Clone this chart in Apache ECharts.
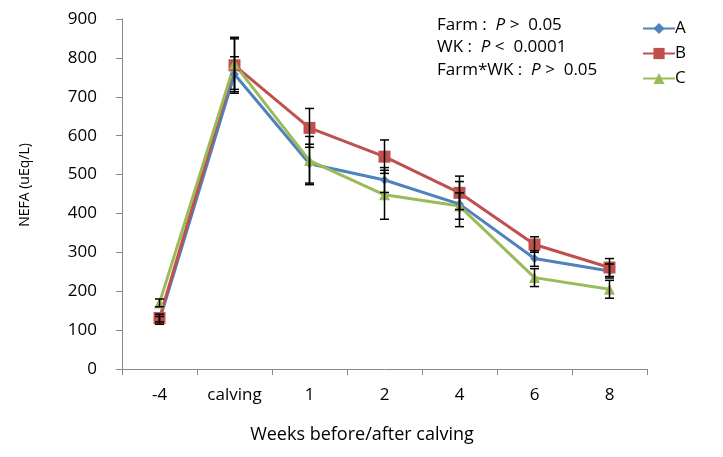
<!DOCTYPE html>
<html><head><meta charset="utf-8">
<script src="https://cdn.jsdelivr.net/npm/echarts@6/dist/echarts.min.js"></script>
<style>html,body{margin:0;padding:0;background:#fff}#c{width:723px;height:457px}</style>
</head><body><div id="c"></div>
<script>
const categories = ['-4', 'calving', '1', '2', '4', '6', '8'];
const farmA = [125, 758, 528, 486, 424, 284, 252];
const farmB = [131, 781, 620, 546, 453, 320, 261];
const farmC = [170, 784, 536, 448, 419, 235, 205];
const errA = [10, 45, 50, 32, 58, 20, 18];
const errB = [10, 72, 50, 43, 43, 20, 23];
const errC = [10, 65, 62, 63, 34, 23, 23];
const yTicks = [0, 900, 100];
const annotations = [['Farm :  ', ' >  0.05'], ['WK :  ', ' <  0.0001'], ['Farm*WK :  ', ' >  0.05']];
const xTitle = 'Weeks before/after calving';
const yTitle = 'NEFA (uEq/L)';

const colors = ['#4F81BD', '#C0504D', '#9BBB59'];
const FONT = 'Open Sans';

function errData(vals, errs) {
  return vals.map((v, i) => [i, v - errs[i], v + errs[i]]);
}
function errSeries(name, vals, errs) {
  return {
    type: 'custom', name: name + ' err', silent: true, z: 5,
    data: errData(vals, errs),
    encode: { x: 0, y: [1, 2] },
    renderItem: function (params, api) {
      const lo = api.coord([api.value(0), api.value(1)]);
      const hi = api.coord([api.value(0), api.value(2)]);
      const w = 4.5;
      const st = { stroke: '#000', lineWidth: 1.5 };
      return { type: 'group', children: [
        { type: 'line', shape: { x1: lo[0], y1: lo[1], x2: hi[0], y2: hi[1] }, style: st },
        { type: 'line', shape: { x1: lo[0] - w, y1: lo[1], x2: lo[0] + w, y2: lo[1] }, style: st },
        { type: 'line', shape: { x1: hi[0] - w, y1: hi[1], x2: hi[0] + w, y2: hi[1] }, style: st }
      ]};
    }
  };
}
function lineSeries(name, vals, symbol, size, color) {
  return {
    type: 'line', name: name, data: vals, symbol: symbol, symbolSize: size,
    lineStyle: { width: 3, color: color }, itemStyle: { color: color },
    z: 3
  };
}

const chart = echarts.init(document.getElementById('c'));
chart.setOption({
  animation: false,
  textStyle: { fontFamily: FONT },
  grid: { left: 122, right: 76, top: 19, bottom: 88 },
  legend: {
    orient: 'vertical', right: 32, top: 15, itemGap: 8,
    itemWidth: 32, itemHeight: 14,
    data: ['A', 'B', 'C'],
    textStyle: { fontSize: 17, color: '#000', fontFamily: FONT, padding: [0, 0, 0, -5] }
  },
  xAxis: {
    type: 'category', data: categories, boundaryGap: true,
    axisLine: { lineStyle: { color: '#888', width: 1 } },
    axisTick: { show: true, alignWithLabel: false, length: 6, lineStyle: { color: '#888' } },
    axisLabel: { fontSize: 17, color: '#000', margin: 18, fontFamily: FONT }
  },
  yAxis: {
    type: 'value', min: yTicks[0], max: yTicks[1], interval: yTicks[2],
    axisLine: { show: true, lineStyle: { color: '#888', width: 1 } },
    axisTick: { show: true, length: 6, lineStyle: { color: '#888' } },
    splitLine: { show: false },
    axisLabel: { fontSize: 17, color: '#000', margin: 25, fontFamily: FONT }
  },
  graphic: [
    {
      type: 'text', x: 362, y: 435,
      style: { text: xTitle, font: '18px "' + FONT + '"', fill: '#000', align: 'center', verticalAlign: 'middle' }
    },
    {
      type: 'text', x: 25, y: 185, rotation: Math.PI / 2,
      style: { text: yTitle, font: '14px "' + FONT + '"', fill: '#000', align: 'center', verticalAlign: 'middle' }
    }
  ].concat(annotations.map((a, i) => ({
    type: 'text', x: 437, y: 25 + i * 22.5,
    style: {
      text: a[0] + '{i|P}' + a[1],
      font: '17px "' + FONT + '"', fill: '#000', verticalAlign: 'middle',
      rich: { i: { fontStyle: 'italic', fontSize: 17, fontFamily: FONT, fill: '#000' } }
    }
  }))),
  series: [
    lineSeries('A', farmA, 'diamond', 9, colors[0]),
    lineSeries('B', farmB, 'rect', 12, colors[1]),
    lineSeries('C', farmC, 'triangle', 11, colors[2]),
    errSeries('A', farmA, errA),
    errSeries('B', farmB, errB),
    errSeries('C', farmC, errC)
  ]
});
</script></body></html>
